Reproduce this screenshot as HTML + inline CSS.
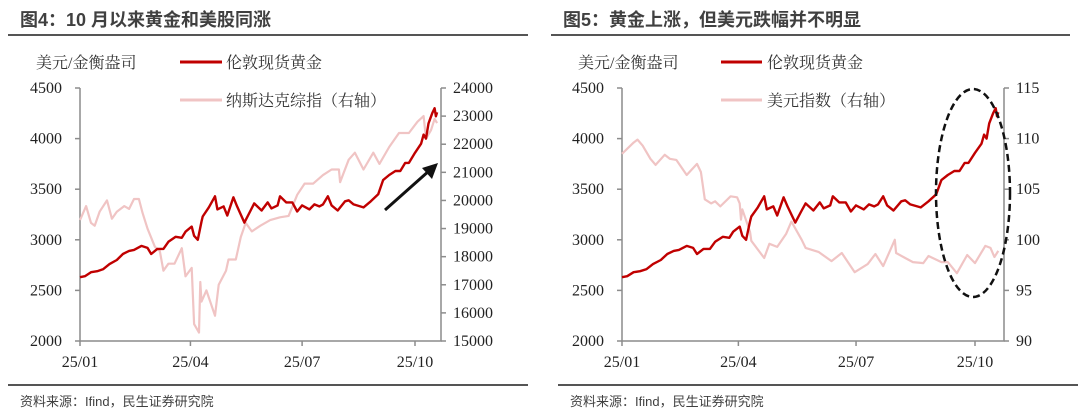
<!DOCTYPE html>
<html><head><meta charset="utf-8">
<style>
html,body{margin:0;padding:0;background:#fff;width:1080px;height:415px;overflow:hidden}
svg{display:block}
.t{font-family:"Liberation Sans","Noto Sans CJK SC",sans-serif;font-weight:bold;font-size:18px;fill:#404040}
.l{font-family:"Liberation Serif","Noto Serif CJK SC","Noto Sans CJK SC",serif;font-size:16px;fill:#333}
.n{font-family:"Liberation Serif","DejaVu Serif",serif;font-size:16px;fill:#222}
.s{font-family:"Liberation Sans","Noto Sans CJK SC",sans-serif;font-size:13px;fill:#404040}
</style></head><body>
<svg id="c" width="1080" height="415" xmlns="http://www.w3.org/2000/svg">
<text class="t" x="20" y="26">图4：10 月以来黄金和美股同涨</text>
<line x1="8" y1="35" x2="528" y2="35" stroke="#555" stroke-width="2"/>
<text class="t" x="563" y="26">图5：黄金上涨，但美元跌幅并不明显</text>
<line x1="551" y1="35" x2="1070" y2="35" stroke="#555" stroke-width="2"/>
<line x1="8" y1="385" x2="528" y2="385" stroke="#555" stroke-width="2"/>
<line x1="558" y1="385" x2="1078" y2="385" stroke="#555" stroke-width="2"/>
<text class="s" x="20" y="406">资料来源：Ifind，民生证券研究院</text>
<text class="s" x="570" y="406">资料来源：Ifind，民生证券研究院</text>
<text class="l" x="36" y="68">美元/金衡盎司</text>
<text class="l" x="578" y="68">美元/金衡盎司</text>
<line x1="180" y1="62" x2="222" y2="62" stroke="#c00000" stroke-width="3"/>
<text class="l" x="226" y="68">伦敦现货黄金</text>
<line x1="180" y1="100" x2="222" y2="100" stroke="#f0c4c4" stroke-width="3"/>
<text class="l" x="226" y="106">纳斯达克综指（右轴）</text>
<line x1="721" y1="62" x2="762" y2="62" stroke="#c00000" stroke-width="3"/>
<text class="l" x="767" y="68">伦敦现货黄金</text>
<line x1="721" y1="100" x2="762" y2="100" stroke="#f0c4c4" stroke-width="3"/>
<text class="l" x="767" y="106">美元指数（右轴）</text>
</svg>
<script>
// day-of-year (0 = Jan 1, 2025)
const goldDays=[0,4,9,14,19,24,30,35,40,44,50,55,58,63,68,72,78,83,86,91,93,96,99,100,105,110,112,117,120,125,128,134,139,142,148,153,156,161,163,168,173,177,181,187,191,195,198,202,205,210,216,219,223,231,237,243,247,252,257,261,265,268,273,278,280,282,284,287,289,290,291];
const goldVals=[2630,2640,2680,2690,2710,2760,2800,2860,2890,2900,2940,2920,2860,2910,2910,2980,3030,3020,3080,3130,3040,3000,3180,3230,3320,3430,3300,3330,3240,3420,3330,3170,3290,3360,3290,3370,3310,3340,3430,3370,3370,3280,3340,3300,3350,3330,3350,3430,3340,3290,3380,3390,3350,3320,3380,3450,3590,3640,3680,3680,3760,3760,3860,3950,4040,4000,4150,4250,4300,4220,4260];
const ndqDays=[0,5,9,12,16,22,26,30,36,40,44,48,51,55,61,65,68,72,77,83,86,91,93,97,98,99,103,110,113,119,121,127,131,135,140,147,155,163,170,177,183,190,198,205,211,212,219,224,231,239,244,252,260,268,275,280,282,286,289,291];
const ndqVals=[19300,19800,19200,19100,19600,20000,19350,19600,19800,19700,20050,20050,19550,19000,18350,18200,17500,17750,17750,18300,17300,17600,15600,15300,17100,16400,16800,15900,17000,17500,17900,17900,18700,19200,18900,19100,19300,19400,19450,20200,20600,20600,20900,21100,21100,20650,21450,21700,21100,21700,21300,21900,22400,22400,22800,23000,22200,22500,22900,22750];
const dxyDays=[0,9,12,16,22,26,33,37,42,50,58,61,64,69,72,76,84,89,91,92,93,99,100,110,114,120,127,131,139,142,152,162,170,180,190,196,202,211,212,219,225,233,237,247,252,259,267,273,281,285,288,291];
const dxyVals=[108.5,109.6,109.9,109.3,108,107.4,108.4,108,107.9,106.4,107.5,106.7,104,103.6,103.8,103.3,104.3,104.2,103.6,102,103,100.8,99.9,98.2,99.6,99.3,100.6,101.8,100,99.2,98.8,97.9,98.7,96.8,97.6,98.6,97.4,100,98.7,98.2,97.8,97.7,98.4,97.8,97.8,96.7,98.5,97.7,99.4,99.2,98.3,98.9];
const xTickLabels=['25/01','25/04','25/07','25/10'];
const xTickDays=[0,90,181,273];
const goldTicks=[2000,2500,3000,3500,4000,4500];
const ndqTicks=[15000,16000,17000,18000,19000,20000,21000,22000,23000,24000];
const dxyTicks=[90,95,100,105,110,115];

const svg=document.getElementById('c');
const NS='http://www.w3.org/2000/svg';
function mk(tag,attrs,parent){const e=document.createElementNS(NS,tag);for(const k in attrs)e.setAttribute(k,attrs[k]);(parent||svg).appendChild(e);return e;}

function chart(cfg){
  const {x0,x1,xEnd,yT,yB,rMin,rMax,rTicks,rDays,rVals,rName,prefix}=cfg;
  const qs=(xEnd-x0)/273;
  const xs=d=>x0+d*qs;
  const yl=v=>yB-(v-2000)/2500*(yB-yT);
  const yr=v=>yB-(v-rMin)/(rMax-rMin)*(yB-yT);
  const g=mk('g',{});
  
  
  const ax=mk('path',{d:`M${x0},${yT}V${yB}H${x1}V${yT}`,fill:'none',stroke:'#8c8c8c','stroke-width':1.5},g);
  
  
  goldTicks.forEach(v=>{
    const y=yl(v);
    mk('line',{x1:x0-5,y1:y,x2:x0,y2:y,stroke:'#8c8c8c','stroke-width':1.5},g);
    const t=mk('text',{x:x0-18,y:y+5,'text-anchor':'end',class:'n'},g);
    t.textContent=v;
    
    
  });
  rTicks.forEach(v=>{
    const y=yr(v);
    mk('line',{x1:x1,y1:y,x2:x1+5,y2:y,stroke:'#8c8c8c','stroke-width':1.5},g);
    const t=mk('text',{x:x1+12,y:y+5,class:'n'},g);
    t.textContent=v;
    
    
  });
  xTickDays.forEach((d,i)=>{
    const x=xs(d);
    mk('line',{x1:x,y1:yB,x2:x,y2:yB+5,stroke:'#8c8c8c','stroke-width':1.5},g);
    const t=mk('text',{x:x,y:yB+26,'text-anchor':'middle',class:'n'},g);
    t.textContent=xTickLabels[i];
    
    
  });
  const rp=mk('polyline',{points:rDays.map((d,i)=>xs(d).toFixed(1)+','+yr(rVals[i]).toFixed(1)).join(' '),fill:'none',stroke:'#f0c4c4','stroke-width':2.2,'stroke-linejoin':'round'});
  
  
  const gp=mk('polyline',{points:goldDays.map((d,i)=>xs(d).toFixed(1)+','+yl(goldVals[i]).toFixed(1)).join(' '),fill:'none',stroke:'#c00000','stroke-width':2.4,'stroke-linejoin':'round'});
  
  
}
chart({x0:80,x1:441,xEnd:415,yT:88,yB:341,rMin:15000,rMax:24000,rTicks:ndqTicks,rDays:ndqDays,rVals:ndqVals,rName:'nasdaq',prefix:'left'});
chart({x0:622,x1:1004,xEnd:975,yT:88,yB:341,rMin:90,rMax:115,rTicks:dxyTicks,rDays:dxyDays,rVals:dxyVals,rName:'dxy',prefix:'right'});

const ar=mk('g',{});


mk('line',{x1:385,y1:210,x2:430,y2:170,stroke:'#111','stroke-width':3},ar);
mk('polygon',{points:'438,163 422,168 432,179',fill:'#111'},ar);

const el=mk('ellipse',{cx:973,cy:193,rx:37,ry:104,fill:'none',stroke:'#111','stroke-width':2.5,'stroke-dasharray':'7 4'});


</script>
</body></html>
